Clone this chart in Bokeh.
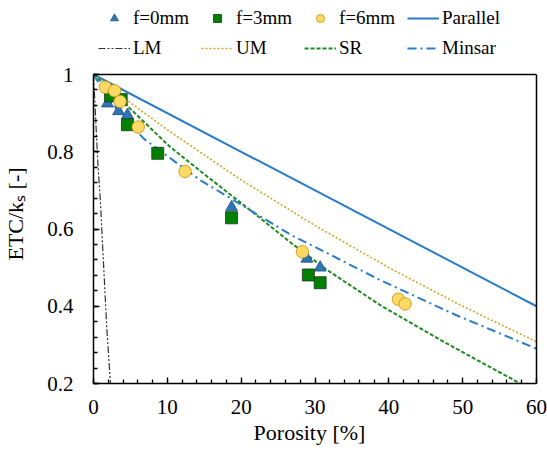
from bokeh.plotting import figure
from bokeh.models import (Legend, LegendItem, Range1d, Span, LinearAxis,
                          SingleIntervalTicker, FixedTicker, NumeralTickFormatter)
from bokeh.embed import file_html
from bokeh.resources import INLINE

# Measured ETC/ks against porosity for three fin sizes
phi_f0 = [1.9, 3.4, 4.6, 18.7, 28.9, 30.7]
etc_f0 = [0.925, 0.905, 0.895, 0.656, 0.523, 0.500]
phi_f3 = [2.3, 3.75, 4.6, 8.7, 18.7, 29.1, 30.7]
etc_f3 = [0.945, 0.935, 0.870, 0.796, 0.629, 0.481, 0.461]
phi_f6 = [1.6, 2.85, 3.6, 6.05, 12.4, 28.3, 41.3, 42.2]
etc_f6 = [0.967, 0.958, 0.930, 0.864, 0.749, 0.541, 0.418, 0.406]

# Model curves
phi_par = [0, 60]
etc_par = [1.0, 0.40]
phi_lm = [0, 0.59, 0.91, 1.36, 1.81, 2.3]
etc_lm = [1.0, 0.77, 0.68, 0.51, 0.34, 0.20]
phi_um = [0, 5, 10, 20, 30, 40, 50, 60]
etc_um = [1.0, 0.927, 0.857, 0.727, 0.609, 0.500, 0.400, 0.308]
phi_sr = [0, 5.0, 10.4, 15.8, 22.4, 26.9, 31.4, 38.9, 47.9, 57.8]
etc_sr = [1.0, 0.911, 0.812, 0.730, 0.631, 0.562, 0.497, 0.402, 0.303, 0.200]
phi_mi = [0, 2.5, 6.8, 10.2, 14.5, 17.9, 22.4, 26.9, 31.4, 38.9, 49.0, 60.0]
etc_mi = [1.0, 0.925, 0.834, 0.786, 0.726, 0.687, 0.635, 0.583, 0.540, 0.467, 0.378, 0.290]

# axis limits of the boxed plot area
X_MIN, X_MAX = 0, 60
Y_MIN, Y_MAX = 0.2, 1.0
# the frame reaches the top of the canvas so the legend can sit above the box
Y_FRAME_TOP = 1.1916

FONT = "'Liberation Serif', 'Times New Roman', serif"
BLUE = "#2B7BC9"
NBSP = "\u00a0"

p = figure(width=547, height=451, output_backend="svg", toolbar_location=None,
           x_range=Range1d(X_MIN, X_MAX), y_range=Range1d(Y_MIN, Y_FRAME_TOP),
           min_border_left=93, min_border_right=11,
           min_border_top=0, min_border_bottom=68)
p.xgrid.visible = False
p.ygrid.visible = False
p.outline_line_color = None

for ax in (p.xaxis[0], p.yaxis[0]):
    ax.axis_line_width = 1.5
    ax.axis_line_color = "black"
    ax.major_tick_in = 6
    ax.major_tick_out = 0
    ax.minor_tick_in = 4
    ax.minor_tick_out = 0
    ax.major_tick_line_width = 1.3
    ax.minor_tick_line_width = 1.3
    ax.major_tick_line_color = "black"
    ax.minor_tick_line_color = "black"
    ax.major_label_text_font = FONT
    ax.major_label_text_font_size = "21px"
    ax.major_label_text_color = "black"
    ax.axis_label_text_font = FONT
    ax.axis_label_text_font_size = "22px"
    ax.axis_label_text_font_style = "normal"
    ax.axis_label_text_color = "black"

p.xaxis.ticker = SingleIntervalTicker(interval=10, num_minor_ticks=5)
p.xaxis.major_label_standoff = 16
# trailing no-break spaces nudge the centred title a little to the left
p.xaxis.axis_label = "Porosity [%]" + NBSP * 2
p.xaxis.axis_label_standoff = 3

p.yaxis.bounds = (Y_MIN, Y_MAX)
p.yaxis.ticker = SingleIntervalTicker(interval=0.2, num_minor_ticks=5)
p.yaxis.formatter = NumeralTickFormatter(format="0.[0]")
p.yaxis.major_label_standoff = 20
# trailing no-break spaces move the title down towards the middle of the box
p.yaxis.axis_label = "ETC/k\u209b [-]" + NBSP * 8
p.yaxis.axis_label_standoff = 16

# right and top edges of the box
right_edge = LinearAxis(bounds=(Y_MIN, Y_MAX), ticker=FixedTicker(ticks=[]),
                        axis_line_width=1.5, axis_line_color="black",
                        major_tick_in=0, major_tick_out=0,
                        minor_tick_in=0, minor_tick_out=0,
                        major_label_standoff=0)
p.add_layout(right_edge, "right")
p.add_layout(Span(location=Y_MAX, dimension="width",
                  line_color="black", line_width=1.5))

# model curves
r_par = p.line(phi_par, etc_par, line_color=BLUE, line_width=2)
r_lm = p.line(phi_lm, etc_lm, line_color="#333333", line_width=1.2,
              line_dash="7 2 2 2 2 2")
r_um = p.line(phi_um, etc_um, line_color="#CDA62A", line_width=1.6, line_dash="2 2")
r_sr = p.line(phi_sr, etc_sr, line_color="#1E8C1E", line_width=2, line_dash="4 2")
r_mi = p.line(phi_mi, etc_mi, line_color=BLUE, line_width=2, line_dash="9 4 2 4")

# measurements
r_f0 = p.scatter(phi_f0, etc_f0, marker="triangle", size=12,
                 fill_color="#2E75B6", line_color="#1F4E79", line_width=0.8)
r_f3 = p.scatter(phi_f3, etc_f3, marker="square", size=12,
                 fill_color="#008000", line_color="#1A3A1A", line_width=0.8)
r_f6 = p.scatter(phi_f6, etc_f6, marker="circle", size=12.5,
                 fill_color="#FFD966", line_color="#BF9000", line_width=0.8)

legend = Legend(items=[
    LegendItem(label="f=0mm", renderers=[r_f0]),
    LegendItem(label="f=3mm", renderers=[r_f3]),
    LegendItem(label="f=6mm", renderers=[r_f6]),
    LegendItem(label="Parallel", renderers=[r_par]),
    LegendItem(label="LM", renderers=[r_lm]),
    LegendItem(label="UM", renderers=[r_um]),
    LegendItem(label="SR", renderers=[r_sr]),
    LegendItem(label="Minsar", renderers=[r_mi]),
], orientation="horizontal", ncols=4, location=(5, 324),
    glyph_width=32, glyph_height=20, label_height=20, label_width=60,
    label_standoff=3, spacing=8, padding=0, margin=0,
    border_line_alpha=0, background_fill_alpha=0,
    label_text_font=FONT, label_text_font_size="19px",
    label_text_color="black")
p.add_layout(legend)

open("out.html", "w").write(file_html(p, INLINE))
